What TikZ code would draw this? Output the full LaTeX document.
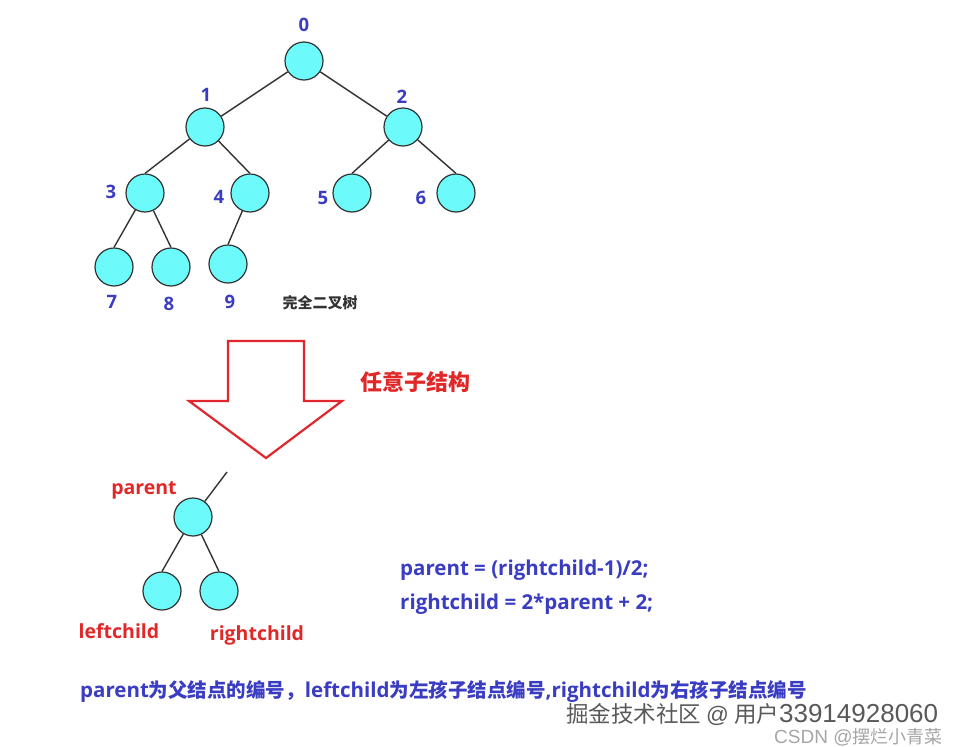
\documentclass[tikz,border=0pt]{standalone}
\usepackage{fontspec}
\setmainfont{Open Sans}
\newfontfamily\cjk{Noto Sans CJK SC}
\newfontfamily\arialx{Liberation Sans}
\begin{document}
\begin{tikzpicture}[x=1pt,y=-1pt,
  tn/.style={circle,draw=black!80,line width=1.2pt,fill=cyanfill,minimum size=38pt,inner sep=0pt},
  edge/.style={draw=black!80,line width=1.4pt},
  numlab/.style={text=labblue,font=\bfseries\fontsize{18.5}{20}\selectfont,inner sep=0pt},
  redlab/.style={text=redtxt,font=\bfseries\fontsize{19.5}{22}\selectfont,inner sep=0pt},
  bluetxt/.style={text=labblue,font=\bfseries\fontsize{20.5}{22}\selectfont,inner sep=0pt,anchor=west}]
\definecolor{cyanfill}{HTML}{6CFAFA}
\definecolor{labblue}{HTML}{3A3DC2}
\definecolor{redtxt}{HTML}{E02828}
\definecolor{arrred}{HTML}{E0262E}
\useasboundingbox (0,0) rectangle (962,747);
\fill[white] (0,0) rectangle (962,747);
% complete binary tree
\node[tn] (n0) at (304,61) {};
\node[tn] (n1) at (205,127) {};
\node[tn] (n2) at (403,127) {};
\node[tn] (n3) at (145,193) {};
\node[tn] (n4) at (250,193) {};
\node[tn] (n5) at (352,193) {};
\node[tn] (n6) at (456,193) {};
\node[tn] (n7) at (114,267) {};
\node[tn] (n8) at (171,267) {};
\node[tn] (n9) at (228,264) {};
\draw[edge] (n0) -- (n1);
\draw[edge] (n0) -- (n2);
\draw[edge] (n1) -- (n3.north);
\draw[edge] (n1) -- (n4.north);
\draw[edge] (n2) -- (n5.north);
\draw[edge] (n2) -- (n6.north);
\draw[edge] (n3) -- (n7.north);
\draw[edge] (n3) -- (n8.north);
\draw[edge] (n4) -- (n9.north);
\node[numlab] (l0) at (304,25) {0};
\node[numlab] (l1) at (206,95) {1};
\node[numlab] (l2) at (402,97) {2};
\node[numlab] (l3) at (111,192) {3};
\node[numlab] (l4) at (219,197) {4};
\node[numlab] (l5) at (323,198) {5};
\node[numlab] (l6) at (421,198) {6};
\node[numlab] (l7) at (112,302) {7};
\node[numlab] (l8) at (169,304) {8};
\node[numlab] (l9) at (230,302) {9};
\node[text=black!80,font=\cjk\bfseries\fontsize{15}{16}\selectfont,inner sep=0pt] (cap) at (320,303) {完全二叉树};
% big arrow
\draw[arrred,line width=2.2pt,line join=miter] (228,341) -- (304,341) -- (304,401) -- (342,401) -- (266,458) -- (189,401) -- (228,401) -- cycle;
\node[text=redtxt,font=\cjk\bfseries\fontsize{22}{24}\selectfont,inner sep=0pt] (sub) at (415,382) {任意子结构};
% small tree
\coordinate (up) at (227,472);
\node[tn] (p) at (193,517) {};
\node[tn] (lc) at (162,591) {};
\node[tn] (rc) at (219,591) {};
\draw[edge] (p) -- (up);
\draw[edge] (p) -- (lc.north);
\draw[edge] (p) -- (rc.north);
\node[redlab] (pl) at (144,490) {parent};
\node[redlab] (lcl) at (119,631) {leftchild};
\node[redlab] (rcl) at (257,635) {rightchild};
% formulas
\node[bluetxt] (f1) at (400,570) {parent = (rightchild-1)/2;};
\node[bluetxt] (f2) at (400,604) {rightchild = 2*parent + 2;};
\node[bluetxt,font=\bfseries\fontsize{20.5}{22}\selectfont] (f3) at (80,691) {parent{\cjk\fontsize{19.5}{22}\selectfont 为父结点的编号，}leftchild{\cjk\fontsize{19.5}{22}\selectfont 为左孩子结点编号}{,}rightchild{\cjk\fontsize{19.5}{22}\selectfont 为右孩子结点编号}};
% watermarks
\node[text=white,font=\cjk\fontsize{22.5}{24}\selectfont,inner sep=0pt,anchor=west] (w1s) at (567.5,715.5) {掘金技术社区 {\arialx @} 用户{\arialx\fontsize{26}{27}\selectfont 33914928060}};
\node[text=black!65,font=\cjk\fontsize{22.5}{24}\selectfont,inner sep=0pt,anchor=west] (w1) at (566,714) {掘金技术社区 {\arialx @} 用户{\arialx\fontsize{26}{27}\selectfont 33914928060}};
\node[text=black!35,font=\cjk\fontsize{18}{19}\selectfont,inner sep=0pt,anchor=west] (w2) at (774,737) {{\arialx\fontsize{19}{20}\selectfont CSDN @}摆烂小青菜};
\end{tikzpicture}
\end{document}
